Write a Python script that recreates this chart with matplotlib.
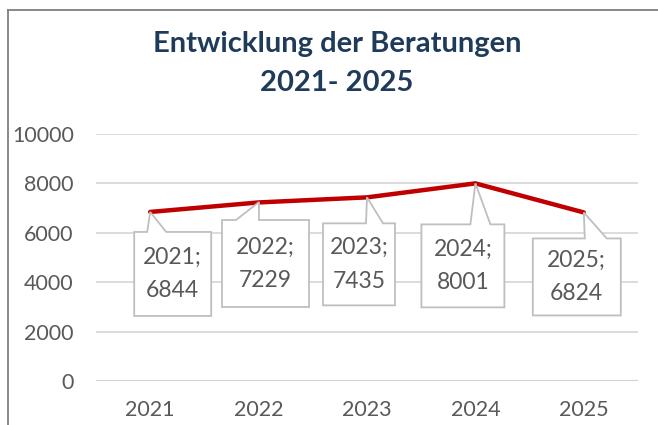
import matplotlib
matplotlib.use("Agg")
import matplotlib.pyplot as plt
from matplotlib.patches import Polygon
from matplotlib.lines import Line2D

# ---- data ----
years = ["2021", "2022", "2023", "2024", "2025"]
values = [6844, 7229, 7435, 8001, 6824]
y_ticks = [0, 2000, 4000, 6000, 8000, 10000]
title_lines = ["Entwicklung der Beratungen", "2021- 2025"]

# ---- callout layout (pixel offsets relative to data point; y downwards) ----
# (box_left, box_top, box_right, box_bottom, tail_left_x, tail_right_x)
callouts = [
    (-16, 20, 61, 104, -3, 16),
    (-37, 18, 50, 105, -23, 0),
    (-44, 26, 28, 108, -1, 16),
    (-54, 41, 29, 124, -5, 15),
    (-51, 26, 37, 103, 1, 23),
]

W, H, DPI = 658, 425, 100
plt.rcParams['font.family'] = ['Lato', 'DejaVu Sans']
fig = plt.figure(figsize=(W / DPI, H / DPI), dpi=DPI)
ax = fig.add_axes([96 / W, 1 - 381 / H, (638 - 96) / W, (381 - 134) / H])

x = list(range(len(years)))
ax.set_xlim(-0.5, len(years) - 0.5)
ax.set_ylim(0, 10000)
ax.set_yticks(y_ticks)
ax.set_xticks(x)
ax.set_xticklabels(years)
for s in ax.spines.values():
    s.set_visible(False)
ax.tick_params(length=0, labelsize=15.5, labelcolor="#595959")
ax.tick_params(axis="y", pad=16)
ax.tick_params(axis="x", pad=14)
for t in y_ticks:
    if t == 0:
        ax.axhline(t, color="#D0D0D0", lw=2.2, zorder=1)
    else:
        ax.axhline(t, color="#D9D9D9", lw=1.3, zorder=1)

ax.plot(x, values, color="#C00000", lw=3.2, solid_capstyle="round", zorder=3)

# callouts
fig.canvas.draw()
for xi, v, yr, c in zip(x, values, years, callouts):
    px, py = ax.transData.transform((xi, v))
    bl, bt, br, bb, tl, tr = c
    def P(dx, dy):
        return (px + dx, py - dy)
    verts = [P(0, 0), P(tr, bt), P(br, bt), P(br, bb), P(bl, bb), P(bl, bt), P(tl, bt)]
    poly = Polygon(verts, closed=True, facecolor="white", edgecolor="#BFBFBF",
                   lw=1.3, transform=None, zorder=4)
    fig.patches.append(poly)
    cx, cy = P((bl + br) / 2, (bt + bb) / 2)
    fig.text(cx / W, cy / H, f"{yr};\n{v}", ha="center", va="center",
             fontsize=16.5, color="#595959", linespacing=1.75, zorder=5)

# title
fig.text(337 / W, 1 - 44 / H, title_lines[0], ha="center", va="center",
         fontsize=21, fontweight="bold", color="#1F3B5A")
fig.text(337 / W, 1 - 83 / H, title_lines[1], ha="center", va="center",
         fontsize=21, fontweight="bold", color="#1F3B5A")

# chart frame (left and top edges visible)
fig.add_artist(Line2D([8 / W, 8 / W], [0, 1 - 10 / H], transform=fig.transFigure,
                      color="#7F7F7F", lw=1.3))
fig.add_artist(Line2D([8 / W, 1], [1 - 10 / H, 1 - 10 / H], transform=fig.transFigure,
                      color="#7F7F7F", lw=1.3))

fig.savefig("out.png", dpi=DPI)
